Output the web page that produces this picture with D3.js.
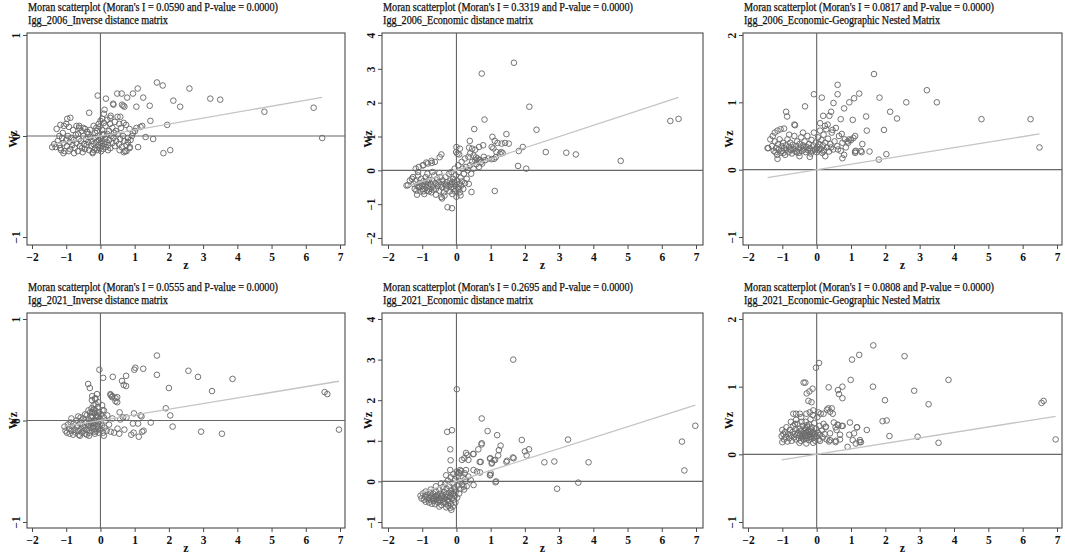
<!DOCTYPE html>
<html><head><meta charset="utf-8">
<script src="https://cdn.jsdelivr.net/npm/d3@7/dist/d3.min.js"></script>
<style>
html,body{margin:0;padding:0;background:#fff;}
svg{display:block;}
text{font-family:"Liberation Serif","DejaVu Serif",serif;fill:#111;}
</style></head>
<body>
<svg id="chart" width="1065" height="556"></svg>
<script>
// ---------------- DATA ----------------
const titles = [
  "Moran scatterplot (Moran's I = 0.0590 and P-value = 0.0000)",
  "Moran scatterplot (Moran's I = 0.3319 and P-value = 0.0000)",
  "Moran scatterplot (Moran's I = 0.0817 and P-value = 0.0000)",
  "Moran scatterplot (Moran's I = 0.0555 and P-value = 0.0000)",
  "Moran scatterplot (Moran's I = 0.2695 and P-value = 0.0000)",
  "Moran scatterplot (Moran's I = 0.0808 and P-value = 0.0000)"
];
const subtitles = [
  "Igg_2006_Inverse distance matrix",
  "Igg_2006_Economic distance matrix",
  "Igg_2006_Economic-Geographic Nested Matrix",
  "Igg_2021_Inverse distance matrix",
  "Igg_2021_Economic distance matrix",
  "Igg_2021_Economic-Geographic Nested Matrix"
];
const moransI = [0.0590, 0.3319, 0.0817, 0.0555, 0.2695, 0.0808];
const xTicks = [-2, -1, 0, 1, 2, 3, 4, 5, 6, 7];
const yTicks = [
  [-1, 0, 1],
  [-2, -1, 0, 1, 2, 3, 4],
  [-1, 0, 1, 2],
  [-1, 0, 1],
  [-1, 0, 1, 2, 3, 4],
  [-1, 0, 1, 2]
];
const xLabel = "z";
const yLabel = "Wz";

// [z, Wz] points per panel
const pts2006Inverse = [
  [1.65,0.53],[1.82,0.50],[2.60,0.47],[1.09,0.47],[3.21,0.37],[3.50,0.36],[2.13,0.35],[2.33,0.29],[1.44,0.30],[1.05,0.29],
  [1.25,0.38],[0.95,0.42],[0.78,0.38],[4.79,0.24],[6.23,0.28],[6.48,-0.02],[0.49,0.42],[0.62,0.42],[-0.08,0.40],[0.16,0.37],
  [-0.33,0.23],[0.63,0.31],[0.70,0.29],[0.37,0.32],[0.12,0.26],[1.46,0.15],[1.95,0.11],[1.22,0.10],[1.05,0.08],[1.01,0.05],
  [1.54,-0.03],[1.32,-0.01],[1.84,-0.17],[2.04,-0.14],[1.10,-0.11],[0.80,-0.06],[0.86,-0.11],[0.76,-0.15],[0.68,-0.16],
  [-1.08,-0.17],[-0.23,-0.17],[0.56,-0.14],[0.72,-0.15],[0.85,-0.12],[0.29,0.18],[0.58,0.19],[1.17,0.09],[0.38,0.31],[0.67,0.30],
  [-1.28,0.07],[-1.17,0.11],[-1.07,0.10],[-0.97,0.17],[-0.88,0.18],[-1.0,0.12],[-0.92,0.09],[-0.8,0.06],[-0.7,0.10],[-0.62,0.08],
  [-0.55,0.05],[-0.45,0.07],[-0.38,0.04],[-0.3,0.06],[-0.2,0.1],[-0.12,0.08],[-0.05,0.12],[0.0,0.15],[0.05,0.17],[0.1,0.13],
  [0.15,0.1],[0.2,0.16],[0.28,0.12],[0.35,0.08],[0.42,0.14],[0.5,0.19],[0.55,0.12],[0.6,0.08],[0.68,0.13],[0.75,0.11],
  [0.85,0.07],[0.95,0.03],[0.3,0.2],[0.1,0.22],[0.45,0.05],[-0.1,0.05],[-0.65,0.02],[-1.1,0.03],[-1.2,0.0],
  [-1.41,-0.11],[-1.31,-0.11],[-1.25,-0.05],[-1.2,-0.09],[-1.15,-0.14],[-1.12,-0.02],[-1.08,-0.07],[-1.05,-0.15],[-1.0,-0.04],[-0.98,-0.1],
  [-0.95,0.0],[-0.9,-0.06],[-0.88,-0.13],[-0.85,-0.02],[-0.82,-0.09],[-0.78,-0.04],[-0.75,-0.12],[-0.72,0.01],[-0.7,-0.07],[-0.66,-0.15],
  [-0.63,-0.03],[-0.6,-0.1],[-0.57,-0.05],[-0.54,-0.12],[-0.5,0.0],[-0.48,-0.08],[-0.45,-0.13],[-0.42,-0.03],[-0.4,-0.09],[-0.36,-0.06],
  [-0.33,-0.14],[-0.3,-0.01],[-0.28,-0.1],[-0.25,-0.05],[-0.22,-0.16],[-0.2,-0.08],[-0.17,-0.02],[-0.15,-0.12],[-0.12,-0.06],[-0.1,-0.14],
  [-0.08,0.0],[-0.06,-0.09],[-0.04,-0.04],[-0.02,-0.12],[0.0,-0.07],[0.02,-0.02],[0.04,-0.1],[0.06,-0.05],[0.08,-0.13],[0.1,0.01],
  [0.12,-0.08],[0.14,-0.03],[0.16,-0.11],[0.18,-0.06],[0.2,0.02],[0.23,-0.09],[0.26,-0.04],[0.29,-0.12],[0.32,0.0],[0.35,-0.07],
  [0.38,-0.02],[0.42,-0.1],[0.46,-0.05],[0.5,0.02],[0.54,-0.08],[0.58,-0.03],[0.62,-0.11],[0.66,0.0],[0.7,-0.05],[0.76,-0.09],
  [0.8,-0.02],[0.88,-0.04],[0.92,0.0],[-0.62,0.1],[-0.5,0.08],[-0.35,0.02],[-0.15,0.03],[0.05,0.06],[0.25,0.05],[0.4,0.03],
  [-1.35,-0.08],[-1.18,-0.12],[-0.93,-0.15],[-0.77,-0.17],[-0.52,-0.16],[-0.18,-0.14],[0.02,-0.15],[0.22,-0.14],[-0.03,0.09],[0.07,0.02]
];
const pts2006Economic = [
  [1.68,3.18],[0.74,2.86],[2.13,1.88],[0.82,1.50],[2.34,1.20],[0.52,1.22],[1.46,1.07],[0.39,0.87],[6.25,1.46],[6.49,1.52],
  [2.61,0.54],[3.21,0.52],[3.49,0.47],[4.80,0.28],[1.94,0.69],[1.82,0.57],[1.80,0.13],[2.04,0.05],[1.12,-0.61],[-0.26,-1.09],
  [-0.13,-1.12],[1.05,0.99],[1.12,0.87],[1.20,0.81],[1.32,0.79],[1.42,0.81],[1.53,0.79],[1.03,0.69],[1.08,0.65],[1.17,0.54],
  [1.27,0.49],[0.93,0.35],[1.03,0.33],[1.10,0.34],[0.0,0.69],[0.1,0.64],[0.03,0.49],[-0.44,0.47],[-0.49,0.39],[-0.73,0.28],
  [-0.88,0.23],[-0.98,0.15],[-1.1,0.1],[-1.19,0.05],[-1.46,-0.45],[-0.44,-0.79],[-0.42,-0.83],[0.44,-0.64],
  [0.78,0.74],[0.66,0.69],[0.55,0.61],[0.46,0.64],[0.37,0.67],[-0.01,0.54],[0.08,0.47],[0.4,0.5],[0.5,0.44],[0.57,0.38],
  [0.65,0.3],[0.72,0.25],[0.84,0.3],[1.15,0.39],[1.35,0.51],[1.31,0.54],[-0.63,0.25],[-0.72,0.22],[-0.84,0.2],[-0.97,0.15],
  [-1.12,-0.05],[-1.27,-0.2],[-1.36,-0.3],[-1.42,-0.44],
  [-1.3,-0.25],[-1.25,-0.4],[-1.22,-0.55],[-1.2,-0.32],[-1.17,-0.6],[-1.15,-0.45],[-1.12,-0.15],[-1.1,-0.5],[-1.08,-0.38],[-1.05,-0.62],
  [-1.03,-0.25],[-1.0,-0.45],[-0.98,-0.55],[-0.96,-0.32],[-0.94,-0.7],[-0.92,-0.42],[-0.9,-0.2],[-0.88,-0.5],[-0.86,-0.6],[-0.84,-0.35],
  [-0.82,-0.45],[-0.8,-0.28],[-0.78,-0.55],[-0.75,-0.4],[-0.73,-0.65],[-0.7,-0.3],[-0.68,-0.48],[-0.65,-0.15],[-0.62,-0.38],[-0.6,-0.55],
  [-0.57,-0.25],[-0.55,-0.45],[-0.52,-0.35],[-0.5,-0.6],[-0.47,-0.2],[-0.45,-0.42],[-0.42,-0.5],[-0.4,-0.3],[-0.37,-0.65],[-0.35,-0.4],
  [-0.32,-0.2],[-0.3,-0.55],[-0.28,-0.35],[-0.25,-0.45],[-0.22,-0.1],[-0.2,-0.62],[-0.18,-0.3],[-0.16,-0.5],[-0.14,-0.4],[-0.12,-0.7],
  [-0.1,-0.25],[-0.08,-0.55],[-0.06,-0.35],[-0.04,-0.45],[-0.02,-0.15],[0.0,-0.6],[0.02,-0.3],[0.04,-0.5],[0.06,-0.05],[0.08,-0.4],
  [0.1,-0.65],[0.12,-0.22],[0.14,-0.45],[0.16,-0.33],[0.18,0.05],[0.2,-0.55],[0.22,-0.1],[0.25,-0.38],[0.28,0.1],[0.3,-0.25],
  [0.33,0.0],[0.36,-0.4],[0.4,0.15],[0.43,-0.1],[0.46,0.25],[0.5,0.05],[0.55,0.3],[0.58,0.18],[0.62,0.35],[0.66,0.1],
  [0.7,0.3],[0.75,0.2],[0.8,0.4],[-0.05,0.05],[0.05,0.15],[-0.15,-0.05],[0.15,0.25],[0.25,0.35],[0.35,0.4],[-1.15,-0.72],
  [-0.6,-0.72],[-0.35,-0.75],[0.0,-0.78],[0.12,-0.74],[-0.85,-0.1],[-0.7,-0.05],[-0.5,-0.08],
  [-1.07,-0.48],[-0.97,-0.62],[-0.9,-0.36],[-0.8,-0.62],[-0.67,-0.57],[-0.3,-0.45],[-0.18,-0.42],[-0.05,-0.62],[0.08,-0.55],[-0.12,-0.35]
];
const pts2006Nested = [
  [1.67,1.42],[0.61,1.26],[0.61,1.12],[-0.08,1.12],[0.15,1.07],[1.09,1.06],[1.24,1.13],[1.83,1.07],[3.21,1.18],[3.50,1.0],
  [2.61,1.0],[0.95,1.0],[0.49,0.99],[0.80,0.91],[-0.34,0.94],[-0.89,0.86],[-0.86,0.79],[0.42,0.86],[0.37,0.80],[0.19,0.80],
  [2.14,0.86],[2.34,0.76],[1.44,0.79],[1.46,0.58],[4.80,0.75],[6.23,0.75],[6.49,0.33],[1.05,0.74],[0.70,0.75],[1.96,0.59],
  [1.33,0.38],[1.31,0.26],[1.54,0.27],[1.81,0.15],[2.03,0.23],[1.12,0.25],[1.14,0.28],[-0.63,0.66],[-0.95,0.61],[0.1,0.69],
  [0.24,0.65],[-1.41,0.32],
  [-1.3,0.35],[-1.25,0.28],[-1.22,0.42],[-1.18,0.32],[-1.15,0.22],[-1.12,0.38],[-1.1,0.3],[-1.08,0.45],[-1.05,0.25],[-1.02,0.35],
  [-1.0,0.28],[-0.98,0.4],[-0.95,0.32],[-0.92,0.22],[-0.9,0.36],[-0.88,0.3],[-0.85,0.45],[-0.82,0.26],[-0.8,0.34],[-0.77,0.4],
  [-0.75,0.29],[-0.72,0.24],[-0.7,0.37],[-0.67,0.31],[-0.65,0.5],[-0.62,0.27],[-0.6,0.35],[-0.57,0.42],[-0.55,0.3],[-0.52,0.25],
  [-0.5,0.38],[-0.47,0.33],[-0.45,0.48],[-0.42,0.28],[-0.4,0.36],[-0.37,0.3],[-0.35,0.42],[-0.32,0.26],[-0.3,0.34],[-0.27,0.5],
  [-0.25,0.29],[-0.22,0.38],[-0.2,0.32],[-0.17,0.24],[-0.15,0.44],[-0.12,0.28],[-0.1,0.36],[-0.08,0.55],[-0.05,0.3],[-0.03,0.4],
  [0.0,0.26],[0.02,0.34],[0.04,0.48],[0.06,0.29],[0.08,0.38],[0.1,0.58],[0.12,0.31],[0.14,0.44],[0.16,0.25],[0.18,0.36],
  [0.2,0.52],[0.22,0.29],[0.25,0.4],[0.28,0.6],[0.3,0.33],[0.33,0.46],[0.36,0.27],[0.4,0.38],[0.44,0.55],[0.48,0.3],
  [0.52,0.42],[0.56,0.62],[0.6,0.35],[0.65,0.5],[0.7,0.28],[0.75,0.4],[0.8,0.22],[0.85,0.33],[0.9,0.42],[0.95,0.45],
  [1.0,0.44],[-1.05,0.6],[-1.14,0.58],[-1.22,0.55],[-1.28,0.5],[-1.35,0.45],[-0.65,0.67],[0.73,0.53],[0.82,0.45],[0.92,0.4],
  [1.07,0.47],[1.12,0.5],[1.12,0.27],[1.29,0.28],[0.32,0.67],[0.46,0.59],[-0.5,0.2],[-0.2,0.19],[0.25,0.2],[0.75,0.17],
  [-1.14,0.16],[-0.8,0.52],[-0.4,0.55],[-1.43,0.32],
  [-1.2,0.26],[-0.97,0.25],[-0.78,0.3],[-0.58,0.26],[-0.38,0.33],[-0.18,0.28],[0.0,0.31],[0.2,0.27],[0.42,0.33],[0.62,0.3]
];
const pts2021Inverse = [
  [1.65,0.64],[2.57,0.49],[2.85,0.43],[1.02,0.52],[0.99,0.50],[1.25,0.51],[1.65,0.45],[-0.03,0.50],[0.08,0.42],[0.36,0.43],
  [0.75,0.44],[3.86,0.41],[2.0,0.32],[3.26,0.29],[-0.36,0.36],[-0.31,0.32],[0.63,0.39],[0.68,0.35],[0.75,0.34],[0.3,0.25],
  [0.35,0.24],[0.49,0.23],[0.44,0.19],[6.55,0.28],[6.63,0.26],[6.97,-0.09],[1.91,0.12],[0.98,0.07],[1.2,0.04],[2.04,0.05],
  [1.47,-0.02],[2.11,-0.06],[2.94,-0.11],[3.55,-0.13],[0.9,-0.14],[1.12,-0.16],[1.26,-0.10],[1.22,-0.11],[0.95,-0.03],[1.1,-0.03],
  [0.5,-0.08],[0.55,-0.13],[0.4,-0.12],[0.58,0.01],[0.76,0.03],[0.7,-0.09],[0.56,0.08],[0.66,0.03],[0.97,-0.12],[1.17,0.05],
  [-1.05,-0.06],[-1.02,-0.1],[-0.98,-0.12],[-0.95,-0.04],[-0.92,-0.08],[-0.9,-0.13],[-0.87,-0.02],[-0.85,-0.1],[-0.82,-0.06],[-0.8,-0.14],
  [-0.78,-0.03],[-0.75,-0.09],[-0.72,-0.12],[-0.7,0.0],[-0.68,-0.06],[-0.65,-0.1],[-0.63,-0.14],[-0.6,-0.03],[-0.58,0.03],[-0.56,-0.08],
  [-0.54,-0.12],[-0.52,-0.05],[-0.5,0.02],[-0.48,-0.1],[-0.46,-0.07],[-0.44,-0.13],[-0.42,-0.02],[-0.4,0.05],[-0.38,-0.09],[-0.36,-0.05],
  [-0.34,0.01],[-0.32,-0.12],[-0.3,0.08],[-0.29,-0.07],[-0.27,-0.03],[-0.26,0.12],[-0.24,-0.1],[-0.23,0.04],[-0.22,-0.06],[-0.2,0.15],
  [-0.19,0.0],[-0.18,-0.08],[-0.17,0.07],[-0.16,-0.13],[-0.15,0.1],[-0.14,-0.03],[-0.13,0.03],[-0.12,-0.1],[-0.1,0.05],[-0.09,-0.06],
  [-0.08,0.13],[-0.07,-0.01],[-0.06,0.18],[-0.05,-0.12],[-0.04,0.08],[-0.03,-0.04],[-0.02,0.02],[0.0,-0.09],[0.02,0.06],[0.04,-0.05],
  [0.06,0.1],[0.08,-0.12],[0.1,0.03],[0.12,-0.07],[0.15,0.0],[0.18,-0.1],[0.2,0.05],[0.25,-0.04],[0.3,-0.11],[0.35,0.02],
  [-0.35,0.1],[-0.45,0.06],[-0.25,0.2],[-0.15,0.22],[-0.1,0.26],[-0.24,0.24],[-0.15,0.21],[-0.55,0.0],[-0.65,0.04],[-0.85,0.02],
  [-0.33,-0.15],[-0.6,-0.15],[0.1,-0.15],[0.05,0.15],[0.1,0.1],[0.29,0.26],[0.34,0.23],[0.44,0.22],[0.49,0.18],[-0.2,0.08],
  [-0.3,-0.01],[-0.4,-0.14],
  [-0.28,0.04],[-0.21,-0.02],[-0.11,0.0],[-0.33,-0.04],[-0.17,-0.11],[-0.25,0.08],[-0.08,0.04],[-0.14,0.16],[-0.19,0.11],[-0.06,-0.08]
];
const pts2021Economic = [
  [1.66,3.0],[0.01,2.27],[0.74,1.55],[6.98,1.37],[-0.13,1.26],[-0.27,1.22],[0.91,1.24],[1.19,1.14],[3.26,1.03],[1.91,1.02],
  [6.59,0.98],[0.73,0.91],[1.29,0.88],[-0.18,0.79],[0.49,0.67],[0.28,0.70],[2.12,0.79],[2.0,0.74],[2.05,0.64],[1.24,0.77],
  [1.22,0.64],[0.98,0.56],[1.03,0.44],[1.09,0.52],[0.71,0.48],[0.68,0.48],[1.46,0.48],[1.65,0.59],[2.57,0.47],[2.86,0.49],
  [3.86,0.47],[6.66,0.27],[-0.17,0.52],[3.56,-0.03],[2.94,-0.18],[1.14,-0.02],[0.98,0.15],[1.0,0.2],[-0.15,-0.7],[-0.18,-0.65],
  [-1.05,-0.35],[-1.02,-0.42],[-0.98,-0.3],[-0.95,-0.45],[-0.92,-0.38],[-0.9,-0.5],[-0.87,-0.33],[-0.85,-0.44],[-0.82,-0.4],[-0.8,-0.52],
  [-0.78,-0.28],[-0.76,-0.46],[-0.74,-0.36],[-0.72,-0.55],[-0.7,-0.42],[-0.68,-0.3],[-0.66,-0.48],[-0.64,-0.38],[-0.62,-0.56],[-0.6,-0.25],
  [-0.58,-0.44],[-0.56,-0.34],[-0.54,-0.52],[-0.52,-0.4],[-0.5,-0.2],[-0.48,-0.46],[-0.46,-0.3],[-0.44,-0.58],[-0.42,-0.36],[-0.4,-0.14],
  [-0.38,-0.5],[-0.36,-0.26],[-0.35,-0.42],[-0.33,-0.05],[-0.32,-0.55],[-0.3,-0.32],[-0.29,-0.18],[-0.28,-0.46],[-0.26,-0.38],[-0.25,0.02],
  [-0.24,-0.6],[-0.22,-0.28],[-0.21,-0.12],[-0.2,-0.48],[-0.18,-0.35],[-0.17,0.1],[-0.16,-0.55],[-0.15,-0.22],[-0.14,-0.42],[-0.12,-0.05],
  [-0.11,-0.62],[-0.1,-0.3],[-0.09,0.18],[-0.08,-0.45],[-0.06,-0.15],[-0.05,-0.36],[-0.04,0.05],[-0.03,-0.52],[-0.02,-0.25],[0.0,0.12],
  [0.02,-0.4],[0.04,-0.1],[0.06,0.22],[0.08,-0.3],[0.1,0.0],[0.12,-0.18],[0.14,0.25],[0.16,-0.08],[0.2,0.1],[0.22,-0.2],
  [0.25,0.05],[0.3,-0.12],[0.28,0.28],[0.24,0.2],[0.11,0.28],[0.01,0.24],[0.09,0.2],[-0.18,0.28],[-0.3,0.15],[-0.45,-0.05],
  [-0.6,-0.12],[-0.75,-0.2],[-0.9,-0.25],[0.35,0.12],[0.42,0.03],[0.5,-0.09],[0.26,0.0],[0.21,-0.13],[0.5,0.28],[0.6,0.24],
  [0.69,0.22],[0.99,0.16],[1.16,0.0],[0.16,0.53],[0.23,0.57],[0.35,0.53],[0.5,0.68],[0.32,0.65],[0.64,0.79],[0.74,0.94],
  [1.48,0.51],[1.67,0.57],[1.13,0.53],[1.04,0.46],[0.99,0.57],[-0.5,-0.62],[-0.3,-0.64],
  [-0.65,-0.42],[-0.55,-0.47],[-0.45,-0.4],[-0.35,-0.52],[-0.25,-0.48],[-0.2,-0.38],[-0.4,-0.33],[-0.6,-0.36],[-0.15,-0.3],[-0.05,-0.2]
];
const pts2021Nested = [
  [1.65,1.61],[1.24,1.47],[1.03,1.40],[2.56,1.45],[0.07,1.35],[-0.02,1.28],[0.99,1.10],[3.84,1.10],[-0.33,1.06],[-0.38,1.06],
  [1.64,1.0],[0.75,1.0],[0.35,0.99],[-0.12,0.97],[-0.21,0.93],[-0.29,0.90],[2.84,0.94],[0.62,0.95],[0.65,0.89],[0.75,0.83],
  [1.99,0.80],[6.55,0.76],[6.61,0.79],[3.26,0.74],[-0.24,0.79],[-0.15,0.77],[0.3,0.66],[0.34,0.68],[6.96,0.22],[1.92,0.49],
  [2.04,0.50],[0.97,0.47],[0.5,0.47],[0.61,0.44],[0.76,0.42],[0.55,0.40],[1.46,0.36],[1.17,0.40],[0.95,0.29],[1.09,0.31],
  [2.12,0.27],[2.94,0.26],[1.14,0.16],[1.25,0.18],[1.29,0.18],[0.9,0.11],[3.55,0.17],[0.55,0.18],[0.36,0.19],[-0.75,0.48],
  [-0.6,0.51],[-0.68,0.6],
  [-1.02,0.27],[-1.0,0.36],[-0.97,0.3],[-0.95,0.22],[-0.92,0.33],[-0.9,0.26],[-0.88,0.4],[-0.85,0.19],[-0.83,0.3],[-0.8,0.24],
  [-0.78,0.36],[-0.75,0.28],[-0.73,0.2],[-0.7,0.33],[-0.68,0.42],[-0.66,0.25],[-0.64,0.3],[-0.62,0.37],[-0.6,0.22],[-0.58,0.28],
  [-0.56,0.45],[-0.54,0.32],[-0.52,0.24],[-0.5,0.38],[-0.48,0.29],[-0.46,0.2],[-0.44,0.34],[-0.42,0.26],[-0.4,0.42],[-0.39,0.3],
  [-0.37,0.22],[-0.35,0.36],[-0.34,0.27],[-0.32,0.48],[-0.3,0.32],[-0.29,0.24],[-0.27,0.4],[-0.26,0.29],[-0.24,0.35],[-0.23,0.21],
  [-0.22,0.44],[-0.2,0.3],[-0.19,0.26],[-0.18,0.52],[-0.16,0.34],[-0.15,0.23],[-0.14,0.4],[-0.12,0.28],[-0.11,0.58],[-0.1,0.33],
  [-0.08,0.25],[-0.07,0.46],[-0.05,0.3],[-0.04,0.2],[-0.02,0.38],[0.0,0.27],[0.02,0.55],[0.04,0.32],[0.06,0.22],[0.08,0.42],
  [0.1,0.29],[0.12,0.6],[0.15,0.35],[0.18,0.25],[0.2,0.45],[0.23,0.3],[0.26,0.4],[0.29,0.22],[-0.45,0.55],[-0.3,0.6],
  [-0.2,0.62],[-0.1,0.65],[0.05,0.62],[0.2,0.6],[0.27,0.41],[-0.6,0.6],[-0.5,0.17],[-0.3,0.16],[-0.1,0.17],[0.1,0.2],
  [0.39,0.31],[0.58,0.36],[0.68,0.29],[0.39,0.21],[0.56,0.2],[0.68,0.22],[1.18,0.4],[1.05,0.21],[1.26,0.21],[0.63,0.43],
  [0.73,0.42],[0.44,0.68],[0.39,0.63],[0.47,0.6],[-0.49,0.6],[-0.63,0.45],[-0.44,0.48],[-1.0,0.18],
  [-0.36,0.31],[-0.31,0.27],[-0.26,0.34],[-0.21,0.25],[-0.17,0.37],[-0.41,0.24],[-0.47,0.35],[-0.13,0.31],[-0.28,0.43],[-0.33,0.39]
];
const panelPoints = [pts2006Inverse, pts2006Economic, pts2006Nested, pts2021Inverse, pts2021Economic, pts2021Nested];

// ---------------- LAYOUT ----------------
const layout = [
  {x0:27,  x1:345,  y0:33,  y1:245, xr:[32,340],   yr:[237,35],  t2:140},
  {x0:382, x1:703,  y0:33,  y1:245, xr:[388,696],  yr:[238,35],  t2:150},
  {x0:743, x1:1062, y0:33,  y1:245, xr:[748,1057], yr:[237,35],  t2:196},
  {x0:27,  x1:345,  y0:313, y1:528, xr:[32,340],   yr:[522,319], t2:140},
  {x0:382, x1:703,  y0:313, y1:528, xr:[388,696],  yr:[522,319], t2:150},
  {x0:743, x1:1062, y0:313, y1:528, xr:[748,1057], yr:[522,319], t2:196}
];

const svg = d3.select("#chart");

layout.forEach((L, i) => {
  const g = svg.append("g");
  const pts = panelPoints[i];
  const yt = yTicks[i];
  const x = d3.scaleLinear().domain([xTicks[0], xTicks[xTicks.length-1]]).range(L.xr);
  const y = d3.scaleLinear().domain([yt[0], yt[yt.length-1]]).range(L.yr);

  // titles
  g.append("text").attr("x", L.x0 + 1).attr("y", L.y0 - 22)
    .attr("font-size", 11.5).attr("textLength", 250).attr("lengthAdjust", "spacingAndGlyphs")
    .attr("stroke", "#111").attr("stroke-width", 0.25)
    .text(titles[i]);
  g.append("text").attr("x", L.x0 + 1).attr("y", L.y0 - 9)
    .attr("font-size", 11.5).attr("textLength", L.t2).attr("lengthAdjust", "spacingAndGlyphs")
    .attr("stroke", "#111").attr("stroke-width", 0.25)
    .text(subtitles[i]);

  // frame
  g.append("rect").attr("x", L.x0).attr("y", L.y0)
    .attr("width", L.x1 - L.x0).attr("height", L.y1 - L.y0)
    .attr("fill", "none").attr("stroke", "#4a4a4a").attr("stroke-width", 1.1);

  // zero reference lines
  g.append("line").attr("x1", L.x0).attr("x2", L.x1).attr("y1", y(0)).attr("y2", y(0))
    .attr("stroke", "#666").attr("stroke-width", 1.1);
  g.append("line").attr("x1", x(0)).attr("x2", x(0)).attr("y1", L.y0).attr("y2", L.y1)
    .attr("stroke", "#666").attr("stroke-width", 1.1);

  // points
  g.append("g").selectAll("circle").data(pts).join("circle")
    .attr("cx", d => x(d[0])).attr("cy", d => y(d[1])).attr("r", 2.8)
    .attr("fill", "none").attr("stroke", "#6c6c6c").attr("stroke-width", 0.95);

  // fitted line Wz = I * z
  const ext = d3.extent(pts, d => d[0]);
  g.append("line")
    .attr("x1", x(ext[0])).attr("y1", y(moransI[i] * ext[0]))
    .attr("x2", x(ext[1])).attr("y2", y(moransI[i] * ext[1]))
    .attr("stroke", "#c4c4c4").attr("stroke-width", 1.3);

  // x axis
  const xa = g.append("g").attr("transform", `translate(0,${L.y1})`)
    .call(d3.axisBottom(x).tickValues(xTicks).tickSize(4).tickPadding(4).tickFormat(d3.format("d")));
  xa.select(".domain").remove();
  xa.selectAll("line").attr("stroke", "#4a4a4a");
  xa.selectAll("text").attr("font-size", 11.5).attr("font-weight", "bold")
    .attr("font-family", "Liberation Serif, serif").attr("fill", "#111");

  // y axis
  const ya = g.append("g").attr("transform", `translate(${L.x0},0)`)
    .call(d3.axisLeft(y).tickValues(yt).tickSize(4).tickFormat(d3.format("d")));
  ya.select(".domain").remove();
  ya.selectAll("line").attr("stroke", "#4a4a4a");
  ya.selectAll("text").attr("font-size", 11.5).attr("font-weight", "bold")
    .attr("font-family", "Liberation Serif, serif").attr("fill", "#111")
    .attr("transform", "rotate(-90)").attr("x", 0).attr("y", -7).attr("dy", 0)
    .attr("text-anchor", "middle");

  // axis titles
  g.append("text").attr("x", (L.x0 + L.x1) / 2).attr("y", L.y1 + 24)
    .attr("text-anchor", "middle").attr("font-size", 12).attr("font-weight", "bold").text(xLabel);
  const cy = (L.y0 + L.y1) / 2;
  g.append("text").attr("transform", `translate(${L.x0 - 10},${cy}) rotate(-90)`)
    .attr("text-anchor", "middle").attr("font-size", 12).attr("font-weight", "bold").text(yLabel);
});
</script>
</body></html>
